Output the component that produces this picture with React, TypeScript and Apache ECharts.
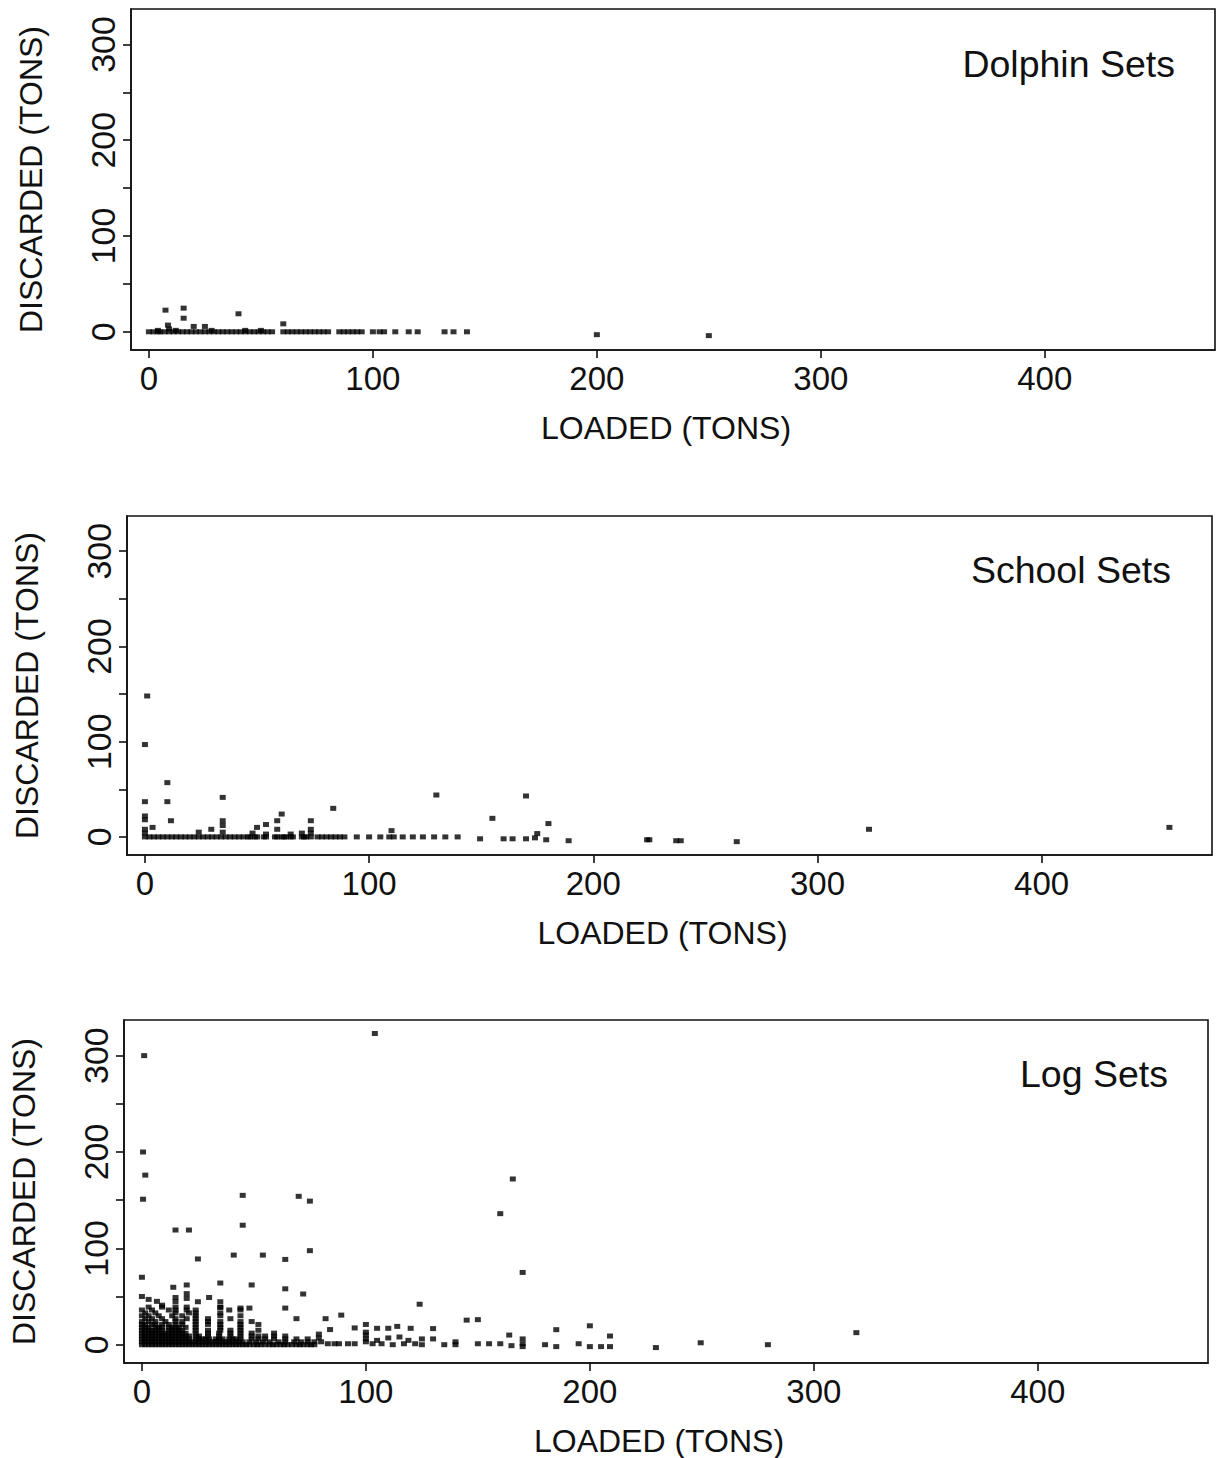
import React, { useEffect, useRef } from "react";
import * as echarts from "echarts";

const FONT = "'Liberation Sans', Arial, Helvetica, sans-serif";
const INK = "#111111";

const panelTitles = ["Dolphin Sets", "School Sets", "Log Sets"];
const xTickValues = [0, 100, 200, 300, 400];
const yLabelValues = [0, 100, 200, 300];
const yTickValues = [0, 50, 100, 150, 200, 250, 300];

// Dolphin sets: points lying on the zero line (loaded values)
const dolphinZeroLoaded = [
  0, 2, 4, 5, 7, 9, 11, 13, 15, 17, 19, 21, 23, 25, 27, 29, 31, 33, 35, 37, 39, 41, 43, 45, 47, 49, 51, 53, 55,
  60, 62, 64, 66, 68, 70, 72, 74, 76, 78, 80, 85, 87, 89, 91, 93, 95, 100, 103, 105, 110, 116, 120, 132, 136, 142,
];
// Dolphin sets: other points [loaded, discarded]
const dolphinOther = [
  [7.4, 22.6], [15.5, 24.7], [15.5, 14.2], [8.5, 7], [9, 3], [20, 5.6], [25, 5.6], [40, 18.8], [60, 8.3],
  [28, 1.5], [43, 1.5], [50, 1.5], [4, 1.5], [12, 1.5], [200, -3], [250, -4],
];

// School sets
const schoolZeroLoaded = [
  0, 2, 4, 6, 8, 10, 12, 14, 16, 18, 20, 22, 24, 26, 28, 30, 32, 34, 36, 38, 40, 42, 44, 46, 47, 49, 50, 53, 54,
  58, 59, 61, 62, 63, 65, 66, 70, 71, 72, 74, 77, 79, 81, 83, 85, 87, 89, 94.5, 100, 105, 109, 111, 115, 119.5,
  124, 129, 134, 139.5,
];
const schoolOther = [
  [1, 148], [0, 97], [10, 57], [0, 37], [10, 37], [34.7, 41.5], [130, 44], [170, 43], [84, 30], [61, 24],
  [155, 19.5], [180, 14], [0, 22], [0, 18], [3.4, 10], [11.6, 17], [34.7, 17], [34.7, 12], [50, 10], [54, 13],
  [59, 17], [59, 8], [74, 17], [74, 8], [110, 6.6], [29.6, 8], [24, 5], [175, 3.5], [323, 8], [457, 10],
  [0, 8], [0, 4], [34.7, 5], [74, 4], [48, 4], [54, 3], [65, 3], [70, 4],
  [149.5, -2], [160, -2], [164, -2], [170, -2], [174, -1], [179, -3], [189, -4], [224, -3], [225, -3],
  [237, -4], [239, -4], [264, -5],
];

// Log sets: dense cluster rows [discarded, loaded values]
const logDenseRows = [
  [0, [0, 1.5, 3, 4.5, 6, 7.5, 9, 10.5, 12, 13.5, 15, 16.5, 18, 19.5, 21, 22.5, 24, 25.5, 27, 28.5, 30, 31.5, 33, 34.5, 36, 37.5, 39, 40.5, 42, 43.5, 45, 46.5, 48, 50, 51.5, 53, 55, 57, 58.5, 60, 62, 63.5, 65, 67, 69, 70.5, 72, 74, 75.5, 77]],
  [3, [0, 1.5, 3, 4.5, 6, 7.5, 9, 10.5, 12, 13.5, 15, 16.5, 18, 19.5, 21, 22.5, 24, 25.5, 27, 28.5, 30, 31.5, 33, 34.5, 36, 37.5, 39, 40.5, 42, 43.5, 45, 48, 51, 54, 57, 61, 64, 68, 71, 74, 77]],
  [6, [0, 1.5, 3, 4.5, 6, 7.5, 9, 10.5, 12, 13.5, 15, 16.5, 18, 19.5, 21, 24, 25.5, 27, 28.5, 30, 33, 34.5, 36, 39, 40.5, 42, 44, 49, 52, 55, 59, 64, 69, 74]],
  [9, [0, 1.5, 3, 4.5, 6, 7.5, 9, 10.5, 12, 13.5, 15, 16.5, 18, 19.5, 21, 24, 25.5, 29.5, 34.5, 39.5, 44, 49, 52, 55, 59, 64]],
  [12, [0, 1.5, 3, 4.5, 6, 7.5, 9, 10.5, 12, 13.5, 15, 16.5, 18, 19.5, 24, 29.5, 34.5, 39.5, 44, 49, 59]],
  [15, [0, 1.5, 3, 4.5, 6, 7.5, 9, 12, 13.5, 15, 16.5, 18, 24, 29.5, 35, 39.5, 44, 52]],
  [18, [0, 1.5, 3, 6, 7.5, 9, 12, 13.5, 15, 16.5, 19.5, 24, 35, 44]],
  [21, [0, 1.5, 4.5, 6, 9, 12, 15, 18, 24, 29.5, 35, 44, 52]],
  [24, [0, 3, 6, 10.5, 15, 18, 24, 29.5, 35, 44, 49]],
  [27, [1.5, 4.5, 9, 15, 20, 24, 29.5, 39.5]],
  [30, [0, 3, 7.5, 13.5, 18, 24, 35, 44]],
  [33, [1.5, 6, 15, 21, 24, 35]],
  [36, [0, 4.5, 12, 15, 20, 24, 39, 44]],
  [39, [3, 9, 15, 20, 35]],
];
// Log sets: scattered points [loaded, discarded]
const logOther = [
  [104, 323], [1, 300], [0.5, 200], [1.5, 176], [0.5, 151], [45, 155], [70, 154], [75, 149], [45, 124],
  [15, 119], [21, 119], [25, 89], [41, 93], [54, 93], [64, 88.5], [75, 97.6], [0, 70], [14, 59.6], [20, 62],
  [35, 64], [49, 62], [64, 58], [72, 52.6], [0, 50], [3, 47], [6.7, 45], [9, 41], [15, 49], [15, 44.6],
  [20, 53], [20, 48], [25, 44.6], [30, 49], [35, 44.6], [35, 38.7], [44, 38], [48, 38], [64, 38], [69, 27],
  [82, 27], [89, 30.7], [124, 42], [84, 15.7], [95, 17.4], [100, 21], [105, 17], [110, 17], [114, 19],
  [120, 17], [165.6, 172], [160, 136], [170, 75], [130, 16.7], [130, 6], [125, 6], [125, 0], [135, 0],
  [140, 3], [140, 0], [145, 25.5], [150, 26], [150, 1], [155, 1], [160, 1], [164, 10], [165, -1], [170, 6],
  [170, 1], [170, -2], [180, 0], [185, 15.6], [185, -2], [195, 1], [200, 19.6], [200, -2], [205, -2],
  [209, -2], [209, 9], [229.5, -3], [249.5, 2], [279.5, 0], [319, 12.5], [100, 13], [100, 10], [100, 6],
  [100, 3], [105, 4.5], [110, 7], [115, 8], [119, 4.5], [79, 11], [79, 7], [80, 3], [83, 1], [86, 1],
  [88, 1], [92, 1], [95, 1], [103, 1], [107, 1], [112, 0], [117, 1], [122, 1],
];

const panelBoxes = [
  { left: 131, top: 9, width: 1084, height: 341 },
  { left: 127, top: 516, width: 1085, height: 339 },
  { left: 122, top: 1020, width: 1086, height: 346 },
];

export default function App() {
  const ref = useRef<HTMLDivElement>(null);
  useEffect(() => {
    if (!ref.current) return;
    const chart = echarts.init(ref.current, undefined, { renderer: "svg" });

    const dolphinData = [...dolphinZeroLoaded.map((x) => [x, 0]), ...dolphinOther];
    const schoolData = [...schoolZeroLoaded.map((x) => [x, 0]), ...schoolOther];
    const logData: number[][] = [];
    logDenseRows.forEach(([y, xs]: any) => xs.forEach((x: number) => logData.push([x, y])));
    logOther.forEach((p) => logData.push(p));
    const allData = [dolphinData, schoolData, logData];

    const line = { color: INK, width: 1.6 };
    const grids = panelBoxes.map((b) => ({
      ...b,
      show: true,
      borderColor: INK,
      borderWidth: 1.6,
      containLabel: false,
    }));
    const xAxes = panelBoxes.map((_, i) => ({
      type: "value",
      gridIndex: i,
      min: -8,
      max: 476,
      axisLine: { show: true, onZero: false, lineStyle: line },
      axisTick: { show: true, length: 8, customValues: xTickValues, lineStyle: line },
      axisLabel: { customValues: xTickValues, fontSize: 33, color: INK, margin: 12, fontFamily: FONT },
      splitLine: { show: false },
      name: "LOADED (TONS)",
      nameLocation: "middle",
      nameGap: 62,
      nameTextStyle: { fontSize: 32, color: INK, fontFamily: FONT, verticalAlign: "top", padding: [0, 14, 0, 0] },
    }));
    const yAxes = panelBoxes.map((_, i) => ({
      type: "value",
      gridIndex: i,
      min: -19,
      max: 337,
      axisLine: { show: true, onZero: false, lineStyle: line },
      axisTick: { show: true, length: 8, customValues: yTickValues, lineStyle: line },
      axisLabel: {
        customValues: yLabelValues,
        fontSize: 34,
        color: INK,
        rotate: 90,
        margin: 11,
        fontFamily: FONT,
      },
      splitLine: { show: false },
      name: "DISCARDED (TONS)",
      nameLocation: "middle",
      nameGap: 84,
      nameTextStyle: { fontSize: 32, color: INK, fontFamily: FONT },
    }));
    const series = allData.map((d, i) => ({
      type: "scatter",
      xAxisIndex: i,
      yAxisIndex: i,
      data: d,
      symbol: "rect",
      symbolSize: [6, 5],
      itemStyle: { color: "#000" },
      silent: true,
    }));
    const titleRight = [1175, 1171, 1168];
    const titleY = [64, 570, 1074];
    const graphic = panelTitles.map((t, i) => ({
      type: "text",
      x: titleRight[i],
      y: titleY[i],
      style: {
        text: t,
        fill: INK,
        fontSize: 37.5,
        fontFamily: FONT,
        textAlign: "right",
        textVerticalAlign: "middle",
      },
    }));

    chart.setOption({
      animation: false,
      backgroundColor: "#ffffff",
      grid: grids,
      xAxis: xAxes,
      yAxis: yAxes,
      series,
      graphic,
    } as any);
    return () => chart.dispose();
  }, []);
  return (
    <div
      ref={ref}
      style={{ position: "absolute", left: 0, top: 0, width: 1220, height: 1458 }}
    />
  );
}
